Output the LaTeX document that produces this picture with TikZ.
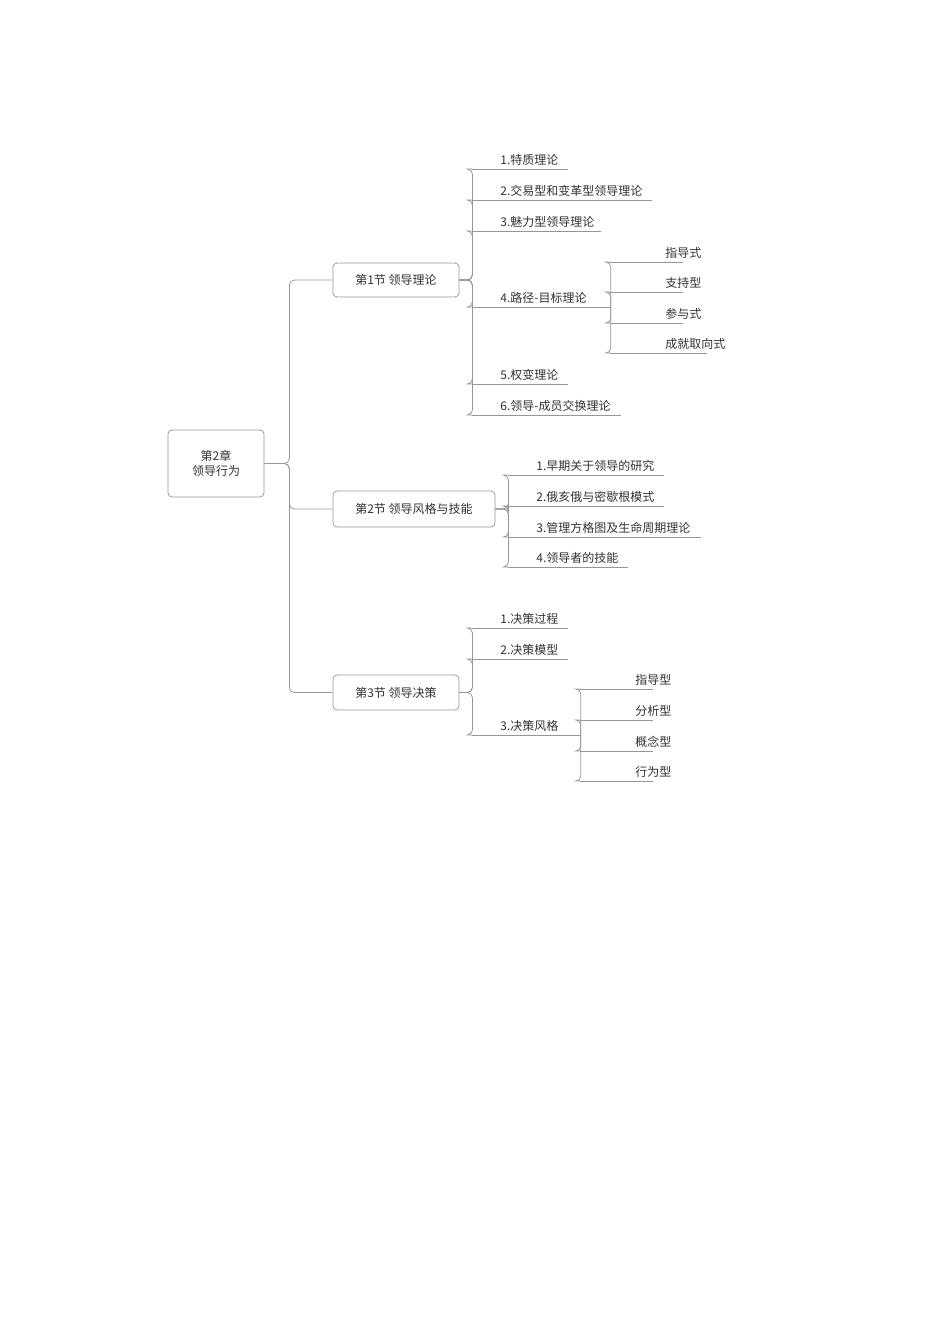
\documentclass[tikz,border=0pt]{standalone}
\usepackage{fontspec}
\setmainfont{Noto Sans CJK SC}
\definecolor{linegray}{RGB}{150,150,150}
\definecolor{textgray}{RGB}{50,50,50}
\tikzset{every picture/.style={line width=0.75pt}}
\tikzset{
  topic/.style={draw=linegray, rounded corners=4pt, text=textgray, font=\fontsize{12}{15}\selectfont, align=center, inner sep=0},
  leaf/.style={anchor=south west, inner xsep=0, inner ysep=3pt, align=left, text=textgray,
    font=\fontsize{12}{15}\selectfont, execute at begin node={\hspace*{28pt}}},
  subleaf/.style={leaf, execute at begin node={\hspace*{27pt}}},
  uline/.style={draw=linegray},
  link/.style={draw=linegray, rounded corners=5pt}
}
\begin{document}
\begin{tikzpicture}[x=1pt,y=1pt,yscale=-1,xscale=1]
\useasboundingbox (0,0) rectangle (950,1344);

% root and sections
\node[topic, minimum width=96, minimum height=67] (root) at (216,463.5) {第2章\\领导行为};
\node[topic, minimum width=126, minimum height=34] (s1) at (396,280) {第1节\ 领导理论};
\node[topic, minimum width=162, minimum height=36] (s2) at (414,509) {第2节\ 领导风格与技能};
\node[topic, minimum width=126, minimum height=35] (s3) at (396,692.5) {第3节\ 领导决策};
\foreach \s in {s1,s2,s3}
  \draw[link] (root.east) -- ++(25,0) |- (\s.west);

% section 1
\node[leaf, text width=95] (a1) at (472,169) {1.特质理论};
\node[leaf, text width=179] (a2) at (472,200) {2.交易型和变革型领导理论};
\node[leaf, text width=128] (a3) at (472,231) {3.魅力型领导理论};
\node[leaf, text width=138] (a4) at (472,307) {4.路径-目标理论};
\node[leaf, text width=95] (a5) at (472,384) {5.权变理论};
\node[leaf, text width=148] (a6) at (472,415) {6.领导-成员交换理论};
\foreach \c in {a1,a2,a3,a4,a5,a6} {
  \draw[uline] (\c.south west) -- (\c.south east);
  \draw[link] (s1.east) -- ++(13,0) |- (\c.south west);
}
\node[subleaf, text width=72] (b1) at (610,262) {指导式};
\node[subleaf, text width=72] (b2) at (610,292) {支持型};
\node[subleaf, text width=72] (b3) at (610,323) {参与式};
\node[subleaf, text width=96] (b4) at (610,353) {成就取向式};
\foreach \c in {b1,b2,b3,b4} {
  \draw[uline] (\c.south west) -- (\c.south east);
  \draw[link] (a4.south east) |- (\c.south west);
}

% section 2
\node[leaf, text width=155] (c1) at (508,475) {1.早期关于领导的研究};
\node[leaf, text width=155] (c2) at (508,506) {2.俄亥俄与密歇根模式};
\node[leaf, text width=192] (c3) at (508,537) {3.管理方格图及生命周期理论};
\node[leaf, text width=119] (c4) at (508,567) {4.领导者的技能};
\foreach \c in {c1,c2,c3,c4} {
  \draw[uline] (\c.south west) -- (\c.south east);
  \draw[link] (s2.east) -- ++(13,0) |- (\c.south west);
}

% section 3
\node[leaf, text width=95] (d1) at (472,628) {1.决策过程};
\node[leaf, text width=95] (d2) at (472,659) {2.决策模型};
\node[leaf, text width=108] (d3) at (472,735) {3.决策风格};
\foreach \c in {d1,d2,d3} {
  \draw[uline] (\c.south west) -- (\c.south east);
  \draw[link] (s3.east) -- ++(13,0) |- (\c.south west);
}
\node[subleaf, text width=72] (e1) at (580,689) {指导型};
\node[subleaf, text width=72] (e2) at (580,720) {分析型};
\node[subleaf, text width=72] (e3) at (580,751) {概念型};
\node[subleaf, text width=72] (e4) at (580,781) {行为型};
\foreach \c in {e1,e2,e3,e4} {
  \draw[uline] (\c.south west) -- (\c.south east);
  \draw[link] (d3.south east) |- (\c.south west);
}
\end{tikzpicture}
\end{document}
